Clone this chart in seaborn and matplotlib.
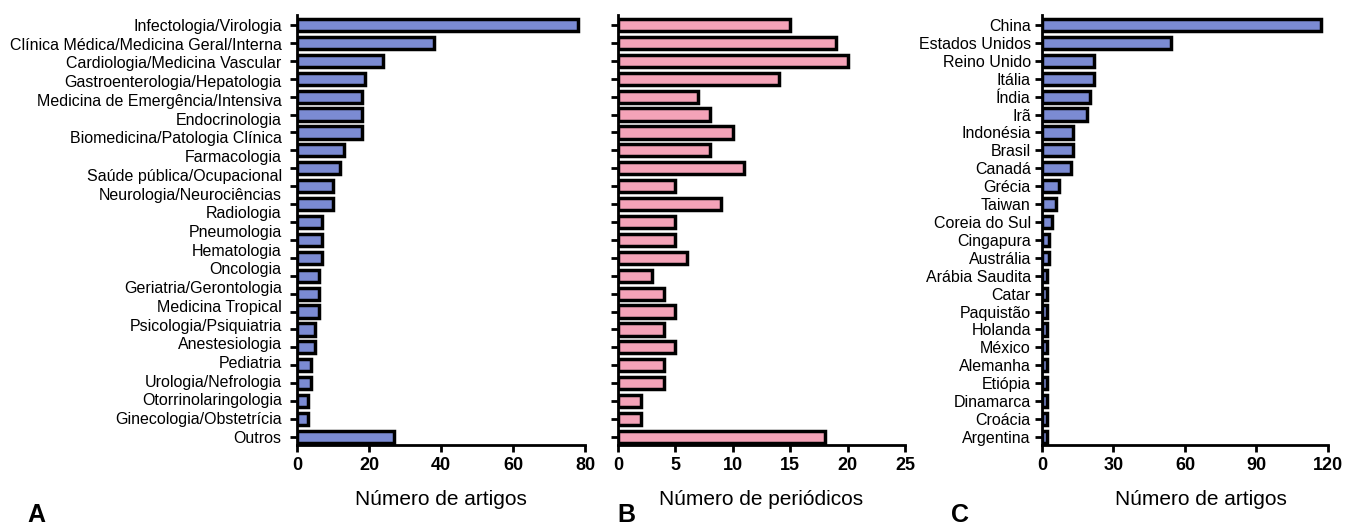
import numpy as np
import matplotlib.pyplot as plt
import seaborn as sns

# painel A / B: especialidades (a figura original tem 24 barras mas so 23 rotulos)
areas = ['Infectologia/Virologia', 'Clínica Médica/Medicina Geral/Interna',
         'Cardiologia/Medicina Vascular', 'Gastroenterologia/Hepatologia',
         'Medicina de Emergência/Intensiva', 'Endocrinologia',
         'Biomedicina/Patologia Clínica', 'Farmacologia',
         'Saúde pública/Ocupacional', 'Neurologia/Neurociências', 'Radiologia',
         'Pneumologia', 'Hematologia', 'Oncologia', 'Geriatria/Gerontologia',
         'Medicina Tropical', 'Psicologia/Psiquiatria', 'Anestesiologia',
         'Pediatria', 'Urologia/Nefrologia', 'Otorrinolaringologia',
         'Ginecologia/Obstetrícia', 'Outros']
artigos_area = [78, 38, 24, 19, 18, 18, 18, 13, 12, 10, 10, 7, 7, 7,
                6, 6, 6, 5, 5, 4, 4, 3, 3, 27]
periodicos_area = [15, 19, 20, 14, 7, 8, 10, 8, 11, 5, 9, 5, 5, 6,
                   3, 4, 5, 4, 5, 4, 4, 2, 2, 18]

# painel C: paises
paises = ['China', 'Estados Unidos', 'Reino Unido', 'Itália', 'Índia', 'Irã',
          'Indonésia', 'Brasil', 'Canadá', 'Grécia', 'Taiwan', 'Coreia do Sul',
          'Cingapura', 'Austrália', 'Arábia Saudita', 'Catar', 'Paquistão',
          'Holanda', 'México', 'Alemanha', 'Etiópia', 'Dinamarca', 'Croácia',
          'Argentina']
artigos_pais = [117, 54, 22, 22, 20, 19, 13, 13, 12, 7, 6, 4, 3, 3,
                2, 2, 2, 2, 2, 2, 2, 2, 2, 2]

azul = '#7b8bd3'
rosa = '#f4a3b8'

sns.set_style('ticks', rc={'axes.edgecolor': 'black', 'text.color': 'black',
                           'xtick.color': 'black', 'ytick.color': 'black',
                           'axes.labelcolor': 'black'})
plt.rcParams['font.family'] = ['Liberation Sans', 'DejaVu Sans']

fig = plt.figure(figsize=(13.45, 5.26), dpi=100)
axA = fig.add_axes([0.2208, 0.154, 0.2141, 0.8175])
axB = fig.add_axes([0.4595, 0.154, 0.2134, 0.8175])
axC = fig.add_axes([0.7747, 0.154, 0.2126, 0.8175])

linhas = list(range(len(artigos_area)))

sns.barplot(x=artigos_area, y=linhas, orient='h', color=azul, edgecolor='black',
            linewidth=2.5, width=0.68, ax=axA, saturation=1)
sns.barplot(x=periodicos_area, y=linhas, orient='h', color=rosa, edgecolor='black',
            linewidth=2.5, width=0.68, ax=axB, saturation=1)
sns.barplot(x=artigos_pais, y=paises, orient='h', color=azul, edgecolor='black',
            linewidth=2.5, width=0.68, ax=axC, saturation=1)

configs = [(axA, 80, 20, 'Número de artigos'),
           (axB, 25, 5, 'Número de periódicos'),
           (axC, 120, 30, 'Número de artigos')]
for ax, xmax, passo, titulo in configs:
    ax.set_xlim(0, xmax)
    ax.set_xticks(np.arange(0, xmax + 1, passo))
    ax.set_ylim(23.45, -0.56)
    ax.set_ylabel('')
    ax.set_xlabel(titulo, fontsize=15, labelpad=11)
    for s in ['top', 'right']:
        ax.spines[s].set_visible(False)
    for s in ['left', 'bottom']:
        ax.spines[s].set_linewidth(2)
    ax.tick_params(axis='x', length=5, width=2, labelsize=13, pad=4)
    ax.tick_params(axis='y', length=5, width=2, labelsize=11.5, pad=3)
    for lab in ax.get_xticklabels():
        lab.set_fontweight('bold')

# rotulos do painel A espalhados ao longo das 24 barras, como no original
axA.yaxis.remove_overlapping_locs = False
axA.set_yticks(linhas)
axA.set_yticklabels([])
axA.set_yticks(np.linspace(0, 23, len(areas)), labels=areas, minor=True)
axA.tick_params(axis='y', which='minor', length=0, labelsize=11.5, pad=11)
axB.set_yticks(linhas)
axB.set_yticklabels([])
axC.xaxis.label.set_x(0.555)

for letra, xpos in [('A', 0.020), ('B', 0.459), ('C', 0.707)]:
    fig.text(xpos, 0.008, letra, fontsize=18, fontweight='bold',
             family=['Liberation Sans Narrow', 'Liberation Sans', 'DejaVu Sans'])

fig.savefig('out.png', dpi=100)
